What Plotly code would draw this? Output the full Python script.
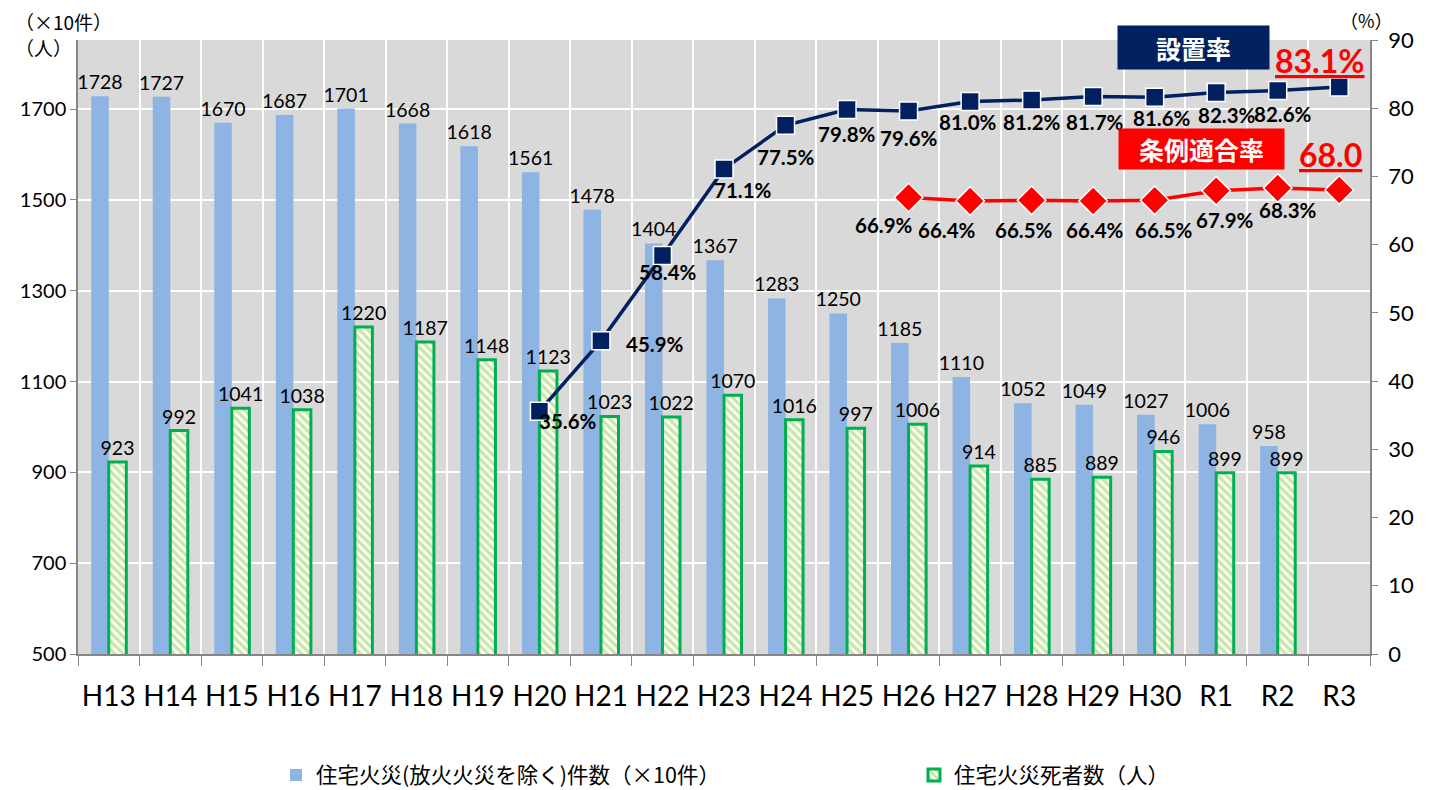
import plotly.graph_objects as go

categories = ["H13", "H14", "H15", "H16", "H17", "H18", "H19", "H20", "H21", "H22",
              "H23", "H24", "H25", "H26", "H27", "H28", "H29", "H30", "R1", "R2", "R3"]
fires = [1728, 1727, 1670, 1687, 1701, 1668, 1618, 1561, 1478, 1404,
         1367, 1283, 1250, 1185, 1110, 1052, 1049, 1027, 1006, 958, None]
deaths = [923, 992, 1041, 1038, 1220, 1187, 1148, 1123, 1023, 1022,
          1070, 1016, 997, 1006, 914, 885, 889, 946, 899, 899, None]
install_cats = ["H20", "H21", "H22", "H23", "H24", "H25", "H26", "H27", "H28", "H29",
                "H30", "R1", "R2", "R3"]
install_rate = [35.6, 45.9, 58.4, 71.1, 77.5, 79.8, 79.6, 81.0, 81.2, 81.7, 81.6, 82.3, 82.6, 83.1]
comply_cats = ["H26", "H27", "H28", "H29", "H30", "R1", "R2", "R3"]
comply_rate = [66.9, 66.4, 66.5, 66.4, 66.5, 67.9, 68.3, 68.0]

# label offsets in pixels (styling)
inst_dx = [29, 54, 6, 19, 0, 0, 0, -2, 0, 2, 7, 11, 5]
inst_dy = [10, 3, 16, 21, 32, 24, 27, 21, 22, 25, 21, 22, 24]
comp_dx = [-25, -23, -8, 2, 9, 9, 10]
comp_dy = [27, 29, 30, 29, 30, 29, 22]

NUM = "Lato, 'Noto Sans', sans-serif"
JP = "'Noto Sans CJK JP', sans-serif"

# page body has an 8px margin; figure is sized/placed to compensate
OFF = 8
W, H = 1440 - OFF, 790 - OFF
L, R, T, B = 76, 1370, 40, 654  # plot area in window pixels

fig = go.Figure()
fig.add_trace(go.Bar(
    x=categories, y=fires, name="住宅火災(放火火災を除く)件数（×10件）", legend="legend",
    marker=dict(color="#8DB4E2", line=dict(width=0)),
    text=[str(v) if v is not None else "" for v in fires],
    textposition="outside", constraintext="none", textangle=0,
    textfont=dict(family=NUM, size=19.5, color="#000000"),
    cliponaxis=False,
))
fig.add_trace(go.Bar(
    x=categories, y=deaths, name="住宅火災死者数（人）", legend="legend2",
    marker=dict(color="white", line=dict(color="#00B050", width=3),
                pattern=dict(shape="\\", fgcolor="#92D050", bgcolor="white", size=6, solidity=0.55)),
    text=[str(v) if v is not None else "" for v in deaths],
    textposition="outside", constraintext="none", textangle=0,
    textfont=dict(family=NUM, size=19.5, color="#000000"),
    cliponaxis=False,
))
fig.add_trace(go.Scatter(
    x=install_cats, y=install_rate, yaxis="y2", mode="lines+markers", showlegend=False,
    line=dict(color="#002060", width=3.5),
    marker=dict(symbol="square", size=18, color="#002060", line=dict(color="white", width=1.5)),
    cliponaxis=False,
))
fig.add_trace(go.Scatter(
    x=comply_cats, y=comply_rate, yaxis="y2", mode="lines+markers", showlegend=False,
    line=dict(color="#FF0000", width=3.5),
    marker=dict(symbol="diamond", size=22, color="#FF0000", line=dict(color="white", width=1.5)),
    cliponaxis=False,
))

LBL = dict(family=NUM, size=20.5, color="#000000", weight="bold")
annotations = []
for i, (c, v) in enumerate(zip(install_cats[:-1], install_rate[:-1])):
    annotations.append(dict(x=c, y=v, xref="x", yref="y2", text=f"{v:.1f}%", showarrow=False,
                            xanchor="center", yanchor="middle",
                            xshift=inst_dx[i], yshift=-inst_dy[i], font=LBL))
for i, (c, v) in enumerate(zip(comply_cats[:-1], comply_rate[:-1])):
    annotations.append(dict(x=c, y=v, xref="x", yref="y2", text=f"{v:.1f}%", showarrow=False,
                            xanchor="center", yanchor="middle",
                            xshift=comp_dx[i], yshift=-comp_dy[i], font=LBL))

def px(x):
    return (x - L) / (R - L)
def py(y):
    return (B - y) / (B - T)

def note(x, y, text, font, xanchor="center", **kw):
    return dict(xref="paper", yref="paper", x=px(x), y=py(y), text=text, showarrow=False,
                xanchor=xanchor, yanchor="middle", font=font, **kw)

annotations += [
    note(1320, 60, f"<u>{install_rate[-1]:.1f}%</u>",
         dict(family=NUM, size=32, color="#FF0000", weight="bold")),
    note(1330, 154, f"<u>{comply_rate[-1]:.1f}</u>",
         dict(family=NUM, size=32, color="#FF0000", weight="bold")),
    note(1193, 47, "設置率", dict(family=JP, size=25, color="white", weight="bold"),
         bgcolor="#002060", width=149, height=41),
    note(1201, 149, "条例適合率", dict(family=JP, size=25, color="white", weight="bold"),
         bgcolor="#FF0000", width=163, height=38),
    note(12, 22, "（×10件）", dict(family=JP, size=19, color="#000000"), xanchor="left", borderpad=0),
    note(12, 47, "（人）", dict(family=JP, size=19, color="#000000"), xanchor="left", borderpad=0),
    note(1366, 20, "（%）", dict(family=JP, size=18, color="#000000"), borderpad=0),
]

legend_common = dict(orientation="h", xref="container", yref="container",
                     xanchor="left", yanchor="middle", tracegroupgap=0,
                     font=dict(family=JP, size=21.5, color="#000000"), bgcolor="rgba(0,0,0,0)")

fig.update_layout(
    width=W, height=H,
    margin=dict(l=L - OFF, r=W - (R - OFF), t=T - OFF, b=H - (B - OFF)),
    paper_bgcolor="white", plot_bgcolor="#D9D9D9",
    barmode="group", bargap=0.43, bargroupgap=0,
    showlegend=True,
    legend=dict(x=(276 - OFF) / W, y=1 - (775 - OFF) / H, **legend_common),
    legend2=dict(x=(914 - OFF) / W, y=1 - (775 - OFF) / H, **legend_common),
    xaxis=dict(type="category", categoryorder="array", categoryarray=categories,
               range=[-0.5, len(categories) - 0.5], tickangle=0,
               tickson="boundaries", showgrid=True, gridcolor="white", gridwidth=2,
               ticks="outside", ticklen=10, tickcolor="#868686", showline=True,
               linecolor="#868686", linewidth=1.5, ticklabelstandoff=17,
               tickfont=dict(family=NUM, size=28, color="#000000")),
    yaxis=dict(range=[500, 1852], tickvals=[500, 700, 900, 1100, 1300, 1500, 1700],
               showgrid=True, gridcolor="white", gridwidth=2, zeroline=False,
               ticks="outside", ticklen=6, tickcolor="#868686", showline=True,
               linecolor="#868686", linewidth=1.5,
               tickfont=dict(family=NUM, size=20, color="#000000")),
    yaxis2=dict(range=[0, 90], dtick=10, overlaying="y", side="right", showgrid=False,
                zeroline=False, ticks="outside", ticklen=6, tickcolor="#868686",
                showline=True, linecolor="#868686", linewidth=1.5, ticklabelstandoff=6,
                tickfont=dict(family=NUM, size=22, color="#000000")),
    annotations=annotations,
)

fig.write_html("out.html")
